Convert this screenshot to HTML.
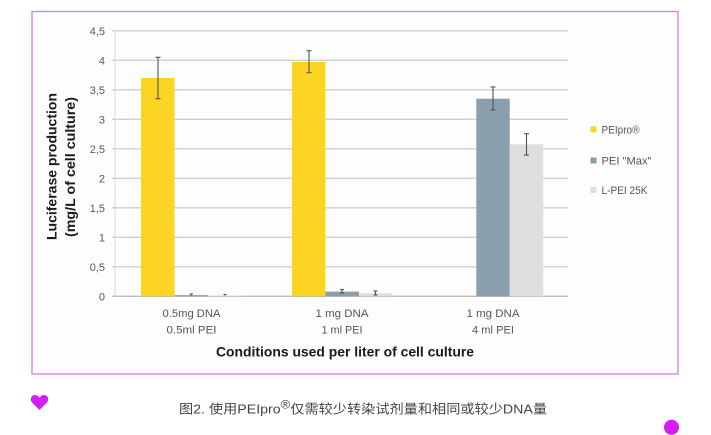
<!DOCTYPE html>
<html>
<head>
<meta charset="utf-8">
<style>
html,body{margin:0;padding:0;background:#fff;}
svg{display:block;}
</style>
</head>
<body>
<svg width="711" height="435" viewBox="0 0 711 435" xmlns="http://www.w3.org/2000/svg">
  <rect x="0" y="0" width="711" height="435" fill="#ffffff"/>
  <!-- frame -->
  <rect x="32" y="11.5" width="646" height="362.5" fill="#fdfdfd" stroke="#d37af0" stroke-width="1.3"/>

  <!-- gridlines -->
  <g stroke="#cfcfcf" stroke-width="1.3">
    <line x1="112" y1="30.8" x2="568" y2="30.8"/>
    <line x1="112" y1="60.3" x2="568" y2="60.3"/>
    <line x1="112" y1="89.8" x2="568" y2="89.8"/>
    <line x1="112" y1="119.3" x2="568" y2="119.3"/>
    <line x1="112" y1="148.8" x2="568" y2="148.8"/>
    <line x1="112" y1="178.3" x2="568" y2="178.3"/>
    <line x1="112" y1="207.8" x2="568" y2="207.8"/>
    <line x1="112" y1="237.3" x2="568" y2="237.3"/>
    <line x1="112" y1="266.8" x2="568" y2="266.8"/>
  </g>
  <line x1="112" y1="296.3" x2="568" y2="296.3" stroke="#bdbdbd" stroke-width="1.4"/>
  <line x1="115" y1="30.8" x2="115" y2="296.3" stroke="#d8d8d8" stroke-width="1"/>

  <!-- y tick labels -->
  <g font-family="Liberation Sans, sans-serif" font-size="11" fill="#595959" text-anchor="end">
    <text x="105" y="34.8">4,5</text>
    <text x="105" y="64.3">4</text>
    <text x="105" y="93.8">3,5</text>
    <text x="105" y="123.3">3</text>
    <text x="105" y="152.8">2,5</text>
    <text x="105" y="182.3">2</text>
    <text x="105" y="211.8">1,5</text>
    <text x="105" y="241.3">1</text>
    <text x="105" y="270.8">0,5</text>
    <text x="105" y="300.3">0</text>
  </g>

  <!-- bars group 1 -->
  <rect x="141" y="78" width="33.5" height="218.3" fill="#fcd523"/>
  <rect x="174.5" y="295.1" width="33.5" height="1.2" fill="#8a9fad"/>
  <rect x="208" y="295.7" width="33.5" height="0.6" fill="#dedede"/>
  <!-- group 2 -->
  <rect x="292" y="62" width="33.5" height="234.3" fill="#fcd523"/>
  <rect x="325.5" y="291.6" width="33.5" height="4.7" fill="#8a9fad"/>
  <rect x="359" y="293.3" width="33.5" height="3" fill="#dedede"/>
  <!-- group 3 -->
  <rect x="476.3" y="98.7" width="33.4" height="197.6" fill="#8a9fad"/>
  <rect x="509.7" y="144.3" width="33.5" height="152" fill="#dedede"/>

  <!-- error bars -->
  <g stroke="#555" stroke-width="1.1" fill="none">
    <line x1="158" y1="57.3" x2="158" y2="98.7"/>
    <line x1="155.5" y1="57.3" x2="160.5" y2="57.3"/>
    <line x1="155.5" y1="98.7" x2="160.5" y2="98.7"/>

    <line x1="309" y1="50.7" x2="309" y2="72.7"/>
    <line x1="306.5" y1="50.7" x2="311.5" y2="50.7"/>
    <line x1="306.5" y1="72.7" x2="311.5" y2="72.7"/>

    <line x1="493" y1="87" x2="493" y2="110"/>
    <line x1="490.5" y1="87" x2="495.5" y2="87"/>
    <line x1="490.5" y1="110" x2="495.5" y2="110"/>

    <line x1="526.5" y1="133.7" x2="526.5" y2="155"/>
    <line x1="524" y1="133.7" x2="529" y2="133.7"/>
    <line x1="524" y1="155" x2="529" y2="155"/>

    <line x1="191.2" y1="294" x2="191.2" y2="295.5"/>
    <line x1="189.5" y1="294" x2="193" y2="294"/>
    <line x1="225" y1="294.5" x2="225" y2="295.5"/>
    <line x1="223.5" y1="294.5" x2="226.5" y2="294.5"/>

    <line x1="342" y1="289.5" x2="342" y2="293"/>
    <line x1="340" y1="289.5" x2="344" y2="289.5"/>
    <line x1="340" y1="293" x2="344" y2="293"/>
    <line x1="375.5" y1="291" x2="375.5" y2="295"/>
    <line x1="373.5" y1="291" x2="377.5" y2="291"/>
    <line x1="373.5" y1="295" x2="377.5" y2="295"/>
  </g>

  <!-- category labels -->
  <g font-family="Liberation Sans, sans-serif" font-size="11" fill="#555" text-anchor="middle">
    <text x="191.5" y="317" textLength="58" lengthAdjust="spacingAndGlyphs">0.5mg DNA</text>
    <text x="191.5" y="333.5" textLength="50" lengthAdjust="spacingAndGlyphs">0.5ml PEI</text>
    <text x="342" y="317" textLength="53" lengthAdjust="spacingAndGlyphs">1 mg DNA</text>
    <text x="342" y="333.5" textLength="41" lengthAdjust="spacingAndGlyphs">1 ml PEI</text>
    <text x="493" y="317" textLength="53" lengthAdjust="spacingAndGlyphs">1 mg DNA</text>
    <text x="493" y="333.5" textLength="42" lengthAdjust="spacingAndGlyphs">4 ml PEI</text>
  </g>

  <!-- x axis title -->
  <text x="345" y="356.5" font-family="Liberation Sans, sans-serif" font-size="13.5" font-weight="bold" fill="#1a1a1a" text-anchor="middle" textLength="258" lengthAdjust="spacingAndGlyphs">Conditions used per liter of cell culture</text>

  <!-- y axis title -->
  <g font-family="Liberation Sans, sans-serif" font-size="14" font-weight="bold" fill="#1a1a1a" text-anchor="middle">
    <text transform="translate(56.5,166.5) rotate(-90)" textLength="147" lengthAdjust="spacingAndGlyphs">Luciferase production</text>
    <text transform="translate(75,167) rotate(-90)" textLength="140" lengthAdjust="spacingAndGlyphs">(mg/L of cell culture)</text>
  </g>

  <!-- legend -->
  <rect x="590.5" y="126.3" width="6" height="6" fill="#fcd523"/>
  <rect x="590.5" y="157.5" width="6" height="6" fill="#8a9fad"/>
  <rect x="590.5" y="187" width="6" height="6" fill="#dedede"/>
  <g font-family="Liberation Sans, sans-serif" font-size="11" fill="#555">
    <text x="601.5" y="133.5" textLength="38" lengthAdjust="spacingAndGlyphs">PEIpro®</text>
    <text x="601.5" y="164.5" textLength="50" lengthAdjust="spacingAndGlyphs">PEI "Max"</text>
    <text x="601.5" y="194" textLength="46" lengthAdjust="spacingAndGlyphs">L-PEI 25K</text>
  </g>

  <!-- heart -->
  <path d="M39.5,410 L32,402.5 C30,400 30.5,395.5 34.5,395 C37,394.7 38.5,396.3 39.5,397.8 C40.5,396.3 42,394.7 44.5,395 C48.5,395.5 49,400 47,402.5 Z" fill="#d41ef5"/>

  <!-- caption -->
  <text x="179" y="413.5" font-family="Liberation Sans, 'Noto Sans CJK SC', sans-serif" font-size="13" fill="#444" textLength="368" lengthAdjust="spacingAndGlyphs">图2. 使用PEIpro<tspan font-size="12" dy="-5">®</tspan><tspan dy="5">仅需较少转染试剂量和相同或较少DNA量</tspan></text>

  <!-- dot -->
  <circle cx="671.5" cy="427.3" r="7.5" fill="#d41ef5"/>
</svg>
</body>
</html>
